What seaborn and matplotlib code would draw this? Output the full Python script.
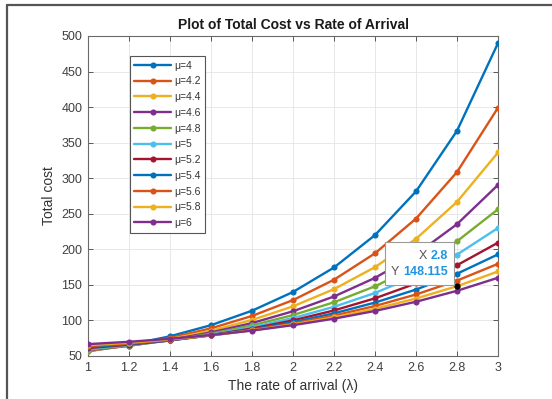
import matplotlib
matplotlib.use("Agg")
import matplotlib.pyplot as plt
from matplotlib.lines import Line2D
from matplotlib.patches import Rectangle
import seaborn as sns
import pandas as pd

# Arrival rates (lambda) on the x axis
arrival_rates = [1.0, 1.2, 1.4, 1.6, 1.8, 2.0, 2.2, 2.4, 2.6, 2.8, 3.0]

# Service rates, one curve each
service_labels = ["μ=4", "μ=4.2", "μ=4.4", "μ=4.6", "μ=4.8", "μ=5",
                  "μ=5.2", "μ=5.4", "μ=5.6", "μ=5.8", "μ=6"]

# Total cost for each service rate
cost_mu_4_0 = [56.67, 65.71, 77.69, 93.33, 113.64, 140.00, 174.44, 220.00, 281.43, 366.67, 490.00]
cost_mu_4_2 = [56.88, 64.86, 75.33, 88.89, 106.29, 128.58, 157.24, 194.38, 243.19, 308.67, 399.14]
cost_mu_4_4 = [57.37, 64.45, 73.70, 85.56, 100.64, 119.76, 144.00, 174.91, 214.71, 266.73, 336.21]
cost_mu_4_6 = [58.08, 64.41, 72.63, 83.10, 96.31, 112.89, 133.68, 159.83, 192.96, 235.37, 290.57]
cost_mu_4_8 = [58.96, 64.67, 72.02, 81.33, 93.00, 107.52, 125.56, 148.00, 176.03, 211.33, 256.33]
cost_mu_5_0 = [60.00, 65.16, 71.78, 80.12, 90.50, 103.33, 119.14, 138.62, 162.67, 192.55, 230.00]
cost_mu_5_2 = [61.16, 65.85, 71.84, 79.35, 88.65, 100.08, 114.05, 131.12, 152.00, 177.64, 209.34]
cost_mu_5_4 = [62.42, 66.70, 72.15, 78.95, 87.33, 97.57, 110.02, 125.11, 143.42, 165.68, 192.89]
cost_mu_5_6 = [63.76, 67.69, 72.67, 78.86, 86.45, 95.68, 106.84, 120.29, 136.48, 156.00, 179.63]
cost_mu_5_8 = [65.18, 68.79, 73.36, 79.02, 85.93, 94.30, 104.36, 116.42, 130.84, 148.115, 168.84]
cost_mu_6_0 = [66.67, 70.00, 74.20, 79.39, 85.71, 93.33, 102.46, 113.33, 126.27, 141.67, 160.00]

costs = [cost_mu_4_0, cost_mu_4_2, cost_mu_4_4, cost_mu_4_6, cost_mu_4_8, cost_mu_5_0,
         cost_mu_5_2, cost_mu_5_4, cost_mu_5_6, cost_mu_5_8, cost_mu_6_0]

# Axis ticks
x_ticks = [1, 1.2, 1.4, 1.6, 1.8, 2, 2.2, 2.4, 2.6, 2.8, 3]
x_tick_labels = ["1", "1.2", "1.4", "1.6", "1.8", "2", "2.2", "2.4", "2.6", "2.8", "3"]
y_ticks = [50, 100, 150, 200, 250, 300, 350, 400, 450, 500]

# Highlighted point (data tip)
tip_series = 9
tip_index = 9

line_colors = ["#0072BD", "#D95319", "#EDB120", "#7E2F8E", "#77AC30", "#4DBEEE",
               "#A2142F", "#0072BD", "#D95319", "#EDB120", "#7E2F8E"]

sns.set_theme(style="whitegrid")
plt.rcParams["font.family"] = ["Liberation Sans", "DejaVu Sans"]

fig = plt.figure(figsize=(5.52, 3.99), dpi=100)
ax = fig.add_axes([0.1594, 0.1078, 0.7428, 0.802])

for label, vals, col in zip(service_labels, costs, line_colors):
    df = pd.DataFrame({"rate": arrival_rates, "cost": vals})
    sns.lineplot(data=df, x="rate", y="cost", ax=ax, color=col, label=label,
                 marker="o", markersize=4.4, markeredgewidth=0, linewidth=1.7,
                 zorder=3)

ax.set_xlim(1, 3)
ax.set_ylim(50, 500)
ax.set_xticks(x_ticks)
ax.set_xticklabels(x_tick_labels)
ax.set_yticks(y_ticks)

tick_color = "#404040"
ax.tick_params(axis="both", which="both", direction="in", length=3.5, width=0.6,
               colors=tick_color, labelsize=9, top=True, right=True,
               bottom=True, left=True, pad=4)
for s in ax.spines.values():
    s.set_color("#6a6a6a")
    s.set_linewidth(0.8)
ax.grid(True, color="#e4e4e4", linewidth=0.6)
ax.set_facecolor("white")

ax.set_title("Plot of Total Cost vs Rate of Arrival", fontsize=10,
             fontweight="bold", color="#1a1a1a", pad=5)
ax.set_xlabel("The rate of arrival (λ)", fontsize=10, color="#333333", labelpad=4)
ax.set_ylabel("Total cost", fontsize=10, color="#333333", labelpad=4)

leg = ax.legend(loc="upper left", bbox_to_anchor=(0.102, 0.9375),
                borderaxespad=0, fontsize=7.5, frameon=True, fancybox=False,
                handlelength=3.5, handletextpad=0.3, labelspacing=0.55,
                borderpad=0.45)
leg.get_frame().set_edgecolor("#555555")
leg.get_frame().set_linewidth(0.8)
leg.get_frame().set_alpha(1)
for t in leg.get_texts():
    t.set_color("#333333")

# Data tip on the selected point
tip_x = arrival_rates[tip_index]
tip_y = costs[tip_series][tip_index]
ax.plot([tip_x], [tip_y], "o", color="black", markersize=3.5, zorder=6)
box = Rectangle((2.449, 150.0), 0.336, 60.3, facecolor="white",
                edgecolor="#9a9a9a", linewidth=0.8, zorder=7)
ax.add_patch(box)
val_color = "#2196e0"
vx = ax.text(2.757, 190.6, f"{tip_x:g}", ha="right", va="center", fontsize=9,
             fontweight="bold", color=val_color, zorder=8)
vy = ax.text(2.757, 168.5, f"{tip_y:g}", ha="right", va="center", fontsize=9,
             fontweight="bold", color=val_color, zorder=8)
for lbl, art in (("X", vx), ("Y", vy)):
    ax.annotate(lbl, xy=(0, 0.5), xycoords=art, xytext=(-3, 0),
                textcoords="offset points", ha="right", va="center",
                fontsize=9, color="#555555", zorder=8)

# Outer window border
fig.add_artist(Line2D([7 / 552, 7 / 552], [0, 1 - 4.7 / 399],
                      transform=fig.transFigure, color="#555555", linewidth=1.6))
fig.add_artist(Line2D([7 / 552, 1], [1 - 4.7 / 399, 1 - 4.7 / 399],
                      transform=fig.transFigure, color="#555555", linewidth=1.6))

fig.savefig("out.png", dpi=100)
